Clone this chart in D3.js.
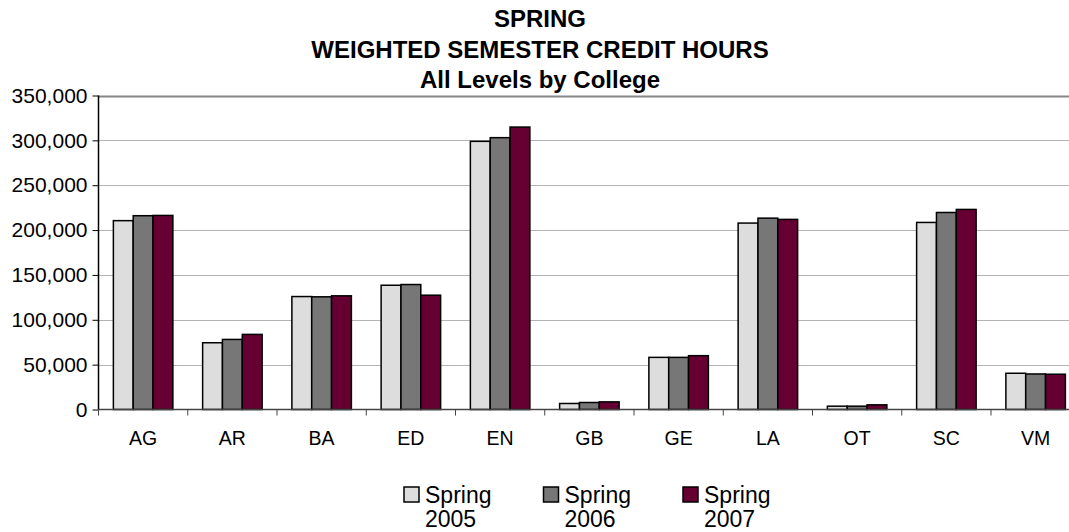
<!DOCTYPE html>
<html>
<head>
<meta charset="utf-8">
<script src="https://cdn.jsdelivr.net/npm/d3@7"></script>
<style>
  body { margin: 0; background: #fff; }
  svg { display: block; font-family: "Liberation Sans", Arial, sans-serif; }
</style>
</head>
<body>
<svg id="chart" width="1069" height="532"></svg>
<script>
// data
const colleges = ['AG', 'AR', 'BA', 'ED', 'EN', 'GB', 'GE', 'LA', 'OT', 'SC', 'VM'];
const seriesNames = ['Spring 2005', 'Spring 2006', 'Spring 2007'];
const spring2005 = [210500, 74400, 125900, 138500, 298900, 6700, 58100, 207800, 3700, 208500, 40400];
const spring2006 = [216000, 78100, 125600, 139300, 303000, 7800, 58100, 213300, 3700, 219600, 39600];
const spring2007 = [216300, 83700, 126700, 127400, 314800, 8500, 60000, 211900, 5200, 223000, 39300];
const yTicks = [0, 50000, 100000, 150000, 200000, 250000, 300000, 350000];
const titleLines = ['SPRING', 'WEIGHTED SEMESTER CREDIT HOURS', 'All Levels by College'];

const seriesValues = [spring2005, spring2006, spring2007];
const colors = ['#dddddd', '#777777', '#660033'];

const svg = d3.select('#chart');
const plotLeft = 98.5, plotTop = 95.5, plotBottom = 409.5;
const band = 89.25;
const plotRight = plotLeft + band * colleges.length; // runs past the picture edge, like the original

const x = d3.scaleBand().domain(colleges).range([plotLeft, plotRight]);
const w = x.bandwidth() / 4.5;  // excel gap width 150%
const xSub = d3.scaleBand().domain(seriesNames).range([0.75 * w, 3.75 * w]);
const y = d3.scaleLinear().domain([0, 350000]).range([plotBottom, plotTop]);

// title
svg.append('g').selectAll('text')
  .data(titleLines)
  .enter().append('text')
  .attr('x', 540)
  .attr('y', (d, i) => 27 + i * 30.5)
  .attr('text-anchor', 'middle')
  .style('font-weight', 'bold')
  .style('font-size', '24px')
  .text(d => d);

// gridlines
svg.append('g').selectAll('line')
  .data(yTicks.filter(t => t > 0))
  .enter().append('line')
  .attr('x1', plotLeft).attr('x2', 1069)
  .attr('y1', d => Math.round(y(d)) + 0.5).attr('y2', d => Math.round(y(d)) + 0.5)
  .style('stroke', d => d === 350000 ? '#888888' : '#b4b4b4')
  .style('stroke-width', d => d === 350000 ? 2 : 1);

// y axis
const yAxis = d3.axisLeft(y).tickValues(yTicks).tickSize(6).tickPadding(5)
  .tickFormat(d3.format(','));
const yg = svg.append('g').attr('transform', 'translate(' + plotLeft + ',0)').call(yAxis);
yg.select('.domain').attr('d', 'M0,' + plotBottom + 'V' + plotTop).style('stroke', '#000').style('stroke-width', 1.5);
yg.selectAll('.tick line').style('stroke', '#000');
yg.selectAll('.tick text').style('font-size', '21px').style('font-family', '"Liberation Sans", Arial, sans-serif').attr('fill', '#000');

// bars
const groups = svg.append('g').selectAll('g')
  .data(colleges)
  .enter().append('g')
  .attr('transform', d => 'translate(' + x(d) + ',0)');

groups.selectAll('rect')
  .data((c, i) => seriesValues.map((vals, s) => ({ s: s, v: vals[i] })))
  .enter().append('rect')
  .attr('x', d => xSub(seriesNames[d.s]))
  .attr('width', xSub.bandwidth())
  .attr('y', d => y(d.v))
  .attr('height', d => plotBottom - y(d.v))
  .attr('fill', d => colors[d.s])
  .style('stroke', '#000')
  .style('stroke-width', 1.5);

// x axis
const xg = svg.append('g').attr('transform', 'translate(0,' + plotBottom + ')');
xg.append('line').attr('x1', plotLeft).attr('x2', 1069).style('stroke', '#444').style('stroke-width', 1.5);
xg.selectAll('line.tk')
  .data(d3.range(colleges.length + 1))
  .enter().append('line')
  .attr('class', 'tk')
  .attr('x1', i => plotLeft + i * band).attr('x2', i => plotLeft + i * band)
  .attr('y1', 0).attr('y2', 6)
  .style('stroke', '#444');
xg.selectAll('text')
  .data(colleges)
  .enter().append('text')
  .attr('x', d => x(d) + x.bandwidth() / 2)
  .attr('y', 35)
  .attr('text-anchor', 'middle')
  .style('font-size', '19.5px')
  .text(d => d);

// legend
const legend = svg.append('g').selectAll('g')
  .data(seriesNames)
  .enter().append('g')
  .attr('transform', (d, i) => 'translate(' + (404 + i * 139.5) + ',487)');
legend.append('rect')
  .attr('width', 15).attr('height', 15)
  .attr('fill', (d, i) => colors[i])
  .style('stroke', '#000').style('stroke-width', 1.5);
legend.append('text')
  .attr('x', 21).attr('y', 16)
  .style('font-size', '23px')
  .text(d => d.split(' ')[0]);
legend.append('text')
  .attr('x', 21).attr('y', 40)
  .style('font-size', '23px')
  .text(d => d.split(' ')[1]);
</script>
</body>
</html>
